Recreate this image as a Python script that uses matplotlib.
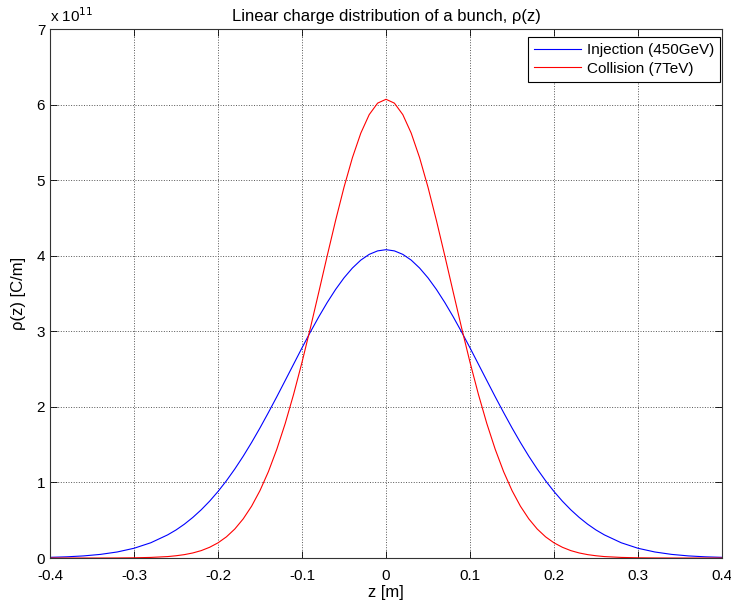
import numpy as np
import matplotlib.pyplot as plt

plt.rcParams['font.family'] = ['Liberation Sans', 'DejaVu Sans']

# z positions [m]
z = [-0.40, -0.38, -0.36, -0.34, -0.32, -0.30, -0.28,
     -0.26, -0.25, -0.24, -0.23, -0.22, -0.21, -0.20, -0.19, -0.18, -0.17,
     -0.16, -0.15, -0.14, -0.13, -0.12, -0.11, -0.10, -0.09, -0.08, -0.07,
     -0.06, -0.05, -0.04, -0.03, -0.02, -0.01,
     0.00,
     0.01, 0.02, 0.03, 0.04, 0.05, 0.06, 0.07, 0.08, 0.09, 0.10,
     0.11, 0.12, 0.13, 0.14, 0.15, 0.16, 0.17, 0.18, 0.19, 0.20,
     0.21, 0.22, 0.23, 0.24, 0.25, 0.26,
     0.28, 0.30, 0.32, 0.34, 0.36, 0.38, 0.40]

# rho(z) in units of 1e11 C/m
rho_injection = [0.009, 0.016, 0.028, 0.048, 0.080, 0.129, 0.202,
                 0.306, 0.371, 0.448, 0.537, 0.638, 0.752, 0.880, 1.022, 1.178, 1.347,
                 1.529, 1.722, 1.925, 2.134, 2.349, 2.565, 2.781, 2.991, 3.192, 3.381,
                 3.554, 3.707, 3.837, 3.942, 4.018, 4.064,
                 4.080,
                 4.064, 4.018, 3.942, 3.837, 3.707, 3.554, 3.381, 3.192, 2.991, 2.781,
                 2.565, 2.349, 2.134, 1.925, 1.722, 1.529, 1.347, 1.178, 1.022, 0.880,
                 0.752, 0.638, 0.537, 0.448, 0.371, 0.306,
                 0.202, 0.129, 0.080, 0.048, 0.028, 0.016, 0.009]

rho_collision = [0.0, 0.0, 0.0001, 0.0003, 0.001, 0.003, 0.008,
                 0.019, 0.030, 0.045, 0.067, 0.098, 0.142, 0.201, 0.280, 0.384, 0.518,
                 0.686, 0.893, 1.143, 1.439, 1.780, 2.166, 2.590, 3.045, 3.519, 3.999,
                 4.467, 4.906, 5.297, 5.622, 5.867, 6.019,
                 6.070,
                 6.019, 5.867, 5.622, 5.297, 4.906, 4.467, 3.999, 3.519, 3.045, 2.590,
                 2.166, 1.780, 1.439, 1.143, 0.893, 0.686, 0.518, 0.384, 0.280, 0.201,
                 0.142, 0.098, 0.067, 0.045, 0.030, 0.019,
                 0.008, 0.003, 0.001, 0.0003, 0.0001, 0.0, 0.0]

fig = plt.figure(figsize=(7.31, 6.08), dpi=100)
ax = fig.add_axes([0.0684, 0.0822, 0.9193, 0.8701])

ax.plot(z, rho_injection, color='b', lw=0.8, label='Injection (450GeV)')
ax.plot(z, rho_collision, color='r', lw=0.8, label='Collision (7TeV)')

ax.set_xlim(-0.4, 0.4)
ax.set_ylim(0, 7)
ax.set_xticks(np.arange(-0.4, 0.41, 0.1))
ax.set_xticklabels(['-0.4', '-0.3', '-0.2', '-0.1', '0', '0.1', '0.2', '0.3', '0.4'])
ax.set_yticks(range(0, 8))
ax.tick_params(direction='in', top=True, right=True, labelsize=11, length=5, width=0.6)
ax.tick_params(axis='x', pad=8)
ax.grid(True, linestyle=':', color='#555555', lw=0.7)
for sp in ax.spines.values():
    sp.set_linewidth(0.8)
    sp.set_color('#333333')

ax.set_xlabel('z [m]', fontsize=12, labelpad=1)
ax.set_ylabel('ρ(z) [C/m]', fontsize=12, labelpad=8)
ax.set_title('Linear charge distribution of a bunch, ρ(z)', fontsize=12, pad=6)
ax.text(0.0, 1.008, r'x 10$^{11}$', transform=ax.transAxes, fontsize=11,
        ha='left', va='bottom')

leg = ax.legend(loc='upper right', fontsize=11, fancybox=False, framealpha=1,
                edgecolor='black', bbox_to_anchor=(0.997, 0.985), borderaxespad=0,
                handlelength=3.1, labelspacing=0.3, borderpad=0.4, handletextpad=0.35)
leg.get_frame().set_linewidth(0.8)

fig.savefig('out.png', dpi=100)
